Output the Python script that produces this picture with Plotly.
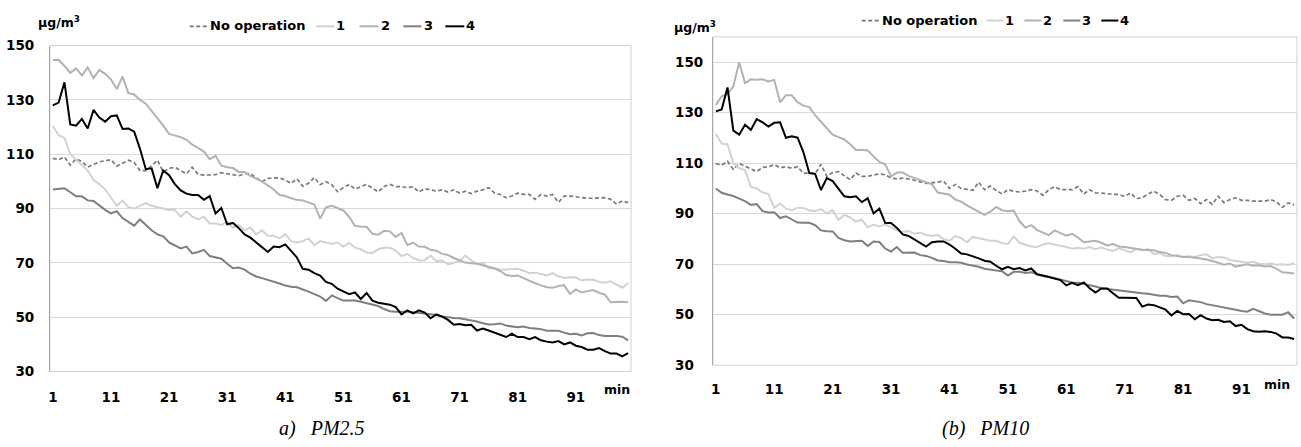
import plotly.graph_objects as go

W, H = 1301, 447

minutes = list(range(1, 101))
tick_minutes = [1, 11, 21, 31, 41, 51, 61, 71, 81, 91]
series_names = ["No operation", "1", "2", "3", "4"]
y_ticks = [30, 50, 70, 90, 110, 130, 150]

# ---------------- PM2.5 ----------------
pm25_no_op = [108.5, 108, 109, 106, 108.3, 107.3, 105.3, 106.4, 107.2, 107.6,
              108, 105.6, 106.6, 107.8, 107, 104, 104, 105.7, 107.8, 103.5,
              104.8, 105.2, 104, 102.8, 105.2, 102.6, 102.3, 102.4, 102.5, 103.2,
              102.8, 102.3, 102.1, 102.8, 102.9, 101.3, 99.9, 101.1, 101.3, 101.3,
              100.5, 99.3, 101, 98.2, 99.3, 101.4, 98.8, 99.9, 98.8, 96.2,
              97.7, 98.9, 97.2, 98.1, 98.9, 97.5, 96.1, 98.1, 98.9, 98.1,
              98.1, 97.7, 98, 96.1, 97.3, 96.9, 96.4, 96.9, 96.1, 96.9,
              95.7, 96.4, 95.5, 96.4, 96.9, 97.7, 95.7, 95.2, 94, 94.6,
              95.7, 95.2, 95.2, 93.4, 95.2, 94.6, 95.2, 92.3, 94.6, 94.6,
              94.3, 94, 93.8, 93.8, 94, 94, 93.4, 91.6, 92.8, 92.2]
pm25_s1 = [120.5, 117, 116, 110, 108, 106, 104, 100.5, 99, 97,
           94, 91, 93, 90.5, 90, 91, 92, 91, 90.5, 90,
           89.5, 89.5, 87, 89, 87, 86, 87, 84.5, 84.5, 84,
           85, 83, 84, 82, 83, 80.5, 82, 80, 80, 79,
           80.5, 78, 77.5, 78, 79, 76.5, 78, 77.5, 77, 77.5,
           76, 77.4, 75.6, 75, 73.8, 73.6, 75, 75.6, 75.6, 74.5,
           72.5, 73.3, 71.8, 70.9, 71, 72.7, 70.6, 70.9, 69.4, 70,
           70.9, 72.7, 70.9, 69.7, 70, 68, 67.9, 67.5, 67.6, 67.9,
           67.8, 67.1, 66.2, 66.4, 66, 65.4, 66.2, 65, 64.4, 64.7,
           64.6, 63.5, 63.9, 63.8, 63, 62.7, 63.2, 62, 60.8, 62.6]
pm25_s2 = [144.7, 144.7, 142.5, 140, 141.6, 139, 142, 138, 141, 139.6,
           137.6, 134, 138.6, 132.5, 132, 130, 128.6, 126, 123, 120.5,
           117.5, 117, 116.3, 115.3, 113.5, 112.3, 111, 108.2, 109.4, 105.8,
           105.2, 104.9, 103.5, 103.5, 102, 101, 100, 98.5, 97, 95,
           94.6, 93.8, 93.2, 93, 92.2, 91.5, 86.3, 90.4, 91, 90,
           89.3, 86.9, 83.6, 83.3, 83.3, 80.7, 80.4, 81.8, 81.6, 79.5,
           81, 76.6, 77.4, 76, 75.9, 74.8, 74.5, 73.3, 72.9, 71.8,
           70.8, 70.1, 69.9, 69.7, 69.1, 68.6, 68, 67, 65.5, 65.2,
           65.3, 64.4, 63.3, 62.5, 61.7, 61, 60.8, 61.5, 61.8, 58.5,
           60.2, 59.1, 59.6, 60, 59, 58.3, 55.5, 55.7, 55.7, 55.5]
pm25_s3 = [97, 97.2, 97.5, 96, 94.5, 94.5, 93, 92.8, 91, 89.5,
           88.2, 89, 86.5, 85, 83.7, 86, 84, 82, 80.5, 79.8,
           77.5, 76.5, 75.3, 76, 73.5, 74, 74.8, 72.5, 72, 71.5,
           69.7, 68, 68.3, 67.5, 66, 65, 64.4, 63.8, 63.2, 62.4,
           61.7, 61.2, 61, 60.3, 59.4, 58.5, 57.6, 56, 58, 57,
           56.1, 56.1, 56.1, 55.7, 55.2, 54.6, 54.1, 53, 52.2, 52,
           52.1, 52, 51.8, 51.6, 51.2, 51, 50.8, 50.3, 49.9, 49.7,
           49.6, 49.2, 48.9, 48.4, 47.8, 47.3, 47.4, 47.7, 46.9, 46.5,
           46.3, 46.6, 46, 45.8, 45.6, 45, 45.1, 45, 44.3, 43.7,
           43.9, 43.3, 44.1, 44.2, 43.4, 43.1, 43.1, 43.1, 42.8, 41.5]
pm25_s4 = [128, 129, 136.5, 121, 120.5, 123, 119.5, 126.3, 123.5, 122,
           124, 124.3, 119.3, 119.5, 118.3, 112, 104.5, 104.8, 97.5, 104,
           102.3, 99, 96.7, 95.5, 95, 95, 93.2, 94.6, 88.2, 90.2,
           84.2, 84.7, 82.8, 80.5, 79.3, 77.5, 75.7, 74, 76, 75.8,
           76.8, 74.5, 72, 67.8, 67.5, 66.2, 65.3, 63, 62.3, 60.5,
           59.6, 58.5, 59.1, 56.7, 58.9, 56.1, 55.3, 55, 54.6, 53.7,
           51, 52.5, 51.4, 52.5, 51.7, 49.6, 51, 50.2, 49, 47.2,
           47.5, 47, 47.2, 45.1, 45.8, 45.1, 44.3, 43.4, 42.7, 43.9,
           42.7, 42.7, 41.9, 42.7, 41.5, 41, 40.7, 41.2, 40, 40.7,
           39.5, 39, 38, 38, 38.6, 37.5, 36.6, 36.6, 35.6, 36.8]

# ---------------- PM10 ----------------
pm10_no_op = [109.9, 109.2, 110.8, 107.5, 109.9, 108.9, 107.6, 106.7, 108.3, 108.6,
              109.4, 108.2, 108.6, 108, 108.6, 106, 106.1, 105.8, 109.5, 104.8,
              106.3, 106.7, 105, 103.5, 106.1, 104.8, 104.8, 105.4, 105.8, 105.4,
              104.1, 103.8, 104.1, 103.8, 103.2, 102.5, 102, 102.2, 102.5, 102.9,
              100, 101.6, 100, 99.5, 99.3, 102.5, 99.5, 101, 99.2, 97.8,
              99.5, 98.9, 98.6, 99, 99.5, 99, 97.3, 99.5, 100.7, 99.5,
              99.5, 99.5, 100.7, 97.8, 99.5, 98.2, 98.2, 97.8, 97.8, 97.5,
              96.9, 98.2, 96, 96.3, 97.8, 98.9, 97.6, 95.6, 95.3, 96.9,
              97.3, 95.3, 96, 94, 95.6, 93.7, 96.9, 94.4, 95.6, 96.3,
              95.3, 95.3, 95, 95, 95, 95.6, 94.6, 92.5, 94.3, 93.5]
pm10_s1 = [121.6, 117.8, 117.5, 110, 108, 107.3, 100.7, 100, 98.4, 97.8,
           92.3, 94, 92, 91.4, 92.4, 92.3, 91.4, 91, 91.8, 90.1,
           91.4, 87.6, 89.5, 88.5, 86.9, 87.6, 84.6, 85.7, 85, 85.7,
           84.6, 83.4, 82.9, 83.1, 82.1, 82.5, 81.6, 81.2, 81.6, 79.9,
           79.3, 81.2, 80.3, 78.7, 80.8, 80.3, 79.9, 79.3, 79.3, 78.3,
           78, 81, 78.5, 77.8, 77, 76.8, 77.8, 78.3, 77.8, 77.4,
           76.8, 76.1, 76.5, 76.1, 76.8, 75.9, 76.6, 75.8, 75.3, 76.3,
           75.7, 74.8, 76.1, 75.5, 76, 74, 74.5, 73.3, 73.2, 73.6,
           72.9, 73.2, 72.9, 73.6, 73.9, 72.3, 72.9, 72.7, 71.7, 71.4,
           71.1, 70.6, 71, 70.2, 70, 70.3, 69.8, 70, 69.7, 70.4]
pm10_s2 = [133, 136.5, 137.3, 140.4, 150, 141.7, 143.2, 143, 143.2, 142.4,
           143, 134.1, 136.9, 136.9, 134.1, 132.8, 132.2, 129, 126.4, 123.9,
           121.3, 120.3, 119.4, 117.5, 115.2, 115.2, 115, 112.7, 110.5, 109.6,
           104.8, 106.3, 106.3, 105, 104.1, 103.2, 102.2, 101.6, 98.4, 97.8,
           97.5, 95.6, 94.8, 93.3, 92, 90.8, 89.5, 90.8, 92.7, 91.4,
           91, 91.2, 87, 84.5, 85.5, 83.5, 82.6, 81.5, 83.4, 82.5,
           81.3, 82, 80.6, 78.7, 79, 79.3, 78.5, 77.4, 78, 77,
           76.8, 76.4, 76.1, 75.7, 75.6, 75.5, 74.8, 74.5, 73.6, 73.2,
           72.9, 72.9, 72.7, 72.3, 71.9, 71.4, 70.6, 69.8, 70.3, 69,
           69.5, 70, 69.4, 69.6, 69.1, 69.3, 68.2, 66.8, 66.6, 66.3]
pm10_s3 = [100, 98.3, 97.6, 97, 96, 95, 93.5, 93.8, 91, 90.5,
           90.6, 88.3, 89, 87.6, 86.5, 86.4, 86.4, 85.5, 83.4, 83.1,
           83, 80.4, 79.5, 79, 79, 79.3, 77.2, 79, 78.8, 76.2,
           75, 76.8, 74.5, 74.5, 74.6, 73.6, 73.3, 72.5, 71.5, 71.3,
           70.8, 70.8, 70.6, 69.9, 69.5, 69, 68.2, 67.7, 67.5, 67.2,
           65.5, 67, 67, 66.5, 66.8, 66, 65.3, 65, 64.5, 64,
           63.4, 62.8, 62.7, 62.3, 61.6, 61.2, 60.5, 60.2, 59.7, 59.5,
           59.3, 59, 58.8, 58.5, 58.3, 58, 57.5, 57.5, 57, 57.2,
           54.5, 55.7, 55.4, 55, 54.2, 53.8, 53.5, 53, 52.5, 52,
           51.5, 51.2, 52.3, 51.3, 50.5, 50, 50, 50, 51, 48.5]
pm10_s4 = [130.5, 131.3, 140, 122.9, 121.3, 125.2, 123.2, 127.5, 126.2, 124.5,
           126, 126.2, 120.1, 120.7, 120.1, 114.3, 106.1, 105.8, 99.4, 104.1,
           102.9, 99.9, 96.9, 96.5, 96.9, 94.6, 96.1, 90.1, 92, 86.3,
           86.3, 84.4, 81.8, 81.2, 79.9, 78.3, 77, 78.7, 79, 79,
           77.8, 76.1, 74.2, 73.9, 73.2, 72.3, 71.4, 71, 69.4, 68,
           69, 68, 68.5, 67.5, 68.3, 66, 65.5, 65, 64.5, 63.7,
           61.6, 62.6, 61.7, 62.8, 60.5, 58.8, 60.4, 60.4, 58.5, 56.7,
           56.7, 56.7, 56.6, 53.2, 54, 53.8, 53, 52, 49.7, 51.5,
           50.2, 50.3, 48.2, 49.8, 48.5, 47.8, 48, 47.1, 47.4, 45.5,
           46, 44.3, 43.5, 43.3, 43.5, 43.2, 42.5, 41, 41, 40.4]

pm25_series = [pm25_no_op, pm25_s1, pm25_s2, pm25_s3, pm25_s4]
pm10_series = [pm10_no_op, pm10_s1, pm10_s2, pm10_s3, pm10_s4]

styles = {
    "No operation": dict(color="#7a7a7a", width=1.7, dash="4px,2.5px"),
    "1": dict(color="#d2d2d2", width=2),
    "2": dict(color="#b2b2b2", width=2),
    "3": dict(color="#7f7f7f", width=2),
    "4": dict(color="#000000", width=2),
}

FONT = "DejaVu Sans"
TICKFONT = dict(family=FONT, size=13.5, color="#000000", weight="bold")
LEGFONT = dict(family=FONT, size=13, color="#000000", weight="bold")
UNITFONT = dict(family=FONT, size=12.5, color="#000000", weight="bold")


def fx(x):
    return x / W


def fy(y):
    return 1 - y / H


fig = go.Figure()
for name, ys in zip(series_names, pm25_series):
    fig.add_trace(go.Scatter(x=minutes, y=ys, mode="lines", name=name,
                             line=styles[name], showlegend=False,
                             xaxis="x", yaxis="y"))
for name, ys in zip(series_names, pm10_series):
    fig.add_trace(go.Scatter(x=minutes, y=ys, mode="lines", name=name,
                             line=styles[name], showlegend=False,
                             xaxis="x2", yaxis="y2"))

xcommon = dict(range=[0.5, 100.5], tickmode="array", tickvals=tick_minutes,
               ticktext=[str(t) for t in tick_minutes], showgrid=False,
               zeroline=False, showline=False, ticks="outside",
               tickcolor="rgba(0,0,0,0)", tickfont=TICKFONT, fixedrange=True)
ycommon = dict(tickmode="array", tickvals=y_ticks, showgrid=True,
               gridcolor="#d9d9d9", gridwidth=1, zeroline=False,
               showline=True, linecolor="#a6a6a6", linewidth=1,
               ticks="outside", tickcolor="rgba(0,0,0,0)", tickfont=TICKFONT,
               fixedrange=True)

fig.update_layout(
    width=W, height=H, autosize=False,
    margin=dict(l=0, r=0, t=0, b=0),
    paper_bgcolor="white", plot_bgcolor="white",
    showlegend=False,
    xaxis=dict(xcommon, domain=[fx(48), fx(630)], anchor="y", ticklen=13),
    yaxis=dict(ycommon, domain=[fy(377), fy(39)], range=[30, 150], anchor="x",
               ticktext=[str(v) for v in y_ticks], ticklen=12),
    xaxis2=dict(xcommon, domain=[fx(712), fx(1297)], anchor="y2", ticklen=12),
    yaxis2=dict(ycommon, domain=[fy(370.5), fy(30)], range=[30, 160], anchor="x2",
                ticktext=[(str(v) if v >= 100 else str(v) + "\u00a0\u00a0") for v in y_ticks],
                ticklen=6),
)

shapes = []
# plot-area borders
for xr, yr in (("x domain", "y domain"), ("x2 domain", "y2 domain")):
    shapes.append(dict(type="rect", xref=xr, yref=yr, x0=0, x1=1, y0=0, y1=1,
                       line=dict(color="#d0d0d0", width=1), layer="below"))

annotations = []

# custom legends (sample line + label) for each panel
legend_a = [(188, 207, 207), (315, 333, 334), (358, 377, 379), (402, 420, 422), (444, 463, 464)]
legend_b = [(861, 880, 880), (986, 1003, 1004), (1024, 1041, 1042), (1063, 1080, 1081), (1101, 1118, 1119)]
for items, ycen in ((legend_a, 19), (legend_b, 13)):
    for name, (x0, x1, xt) in zip(series_names, items):
        st = styles[name]
        shapes.append(dict(type="line", xref="paper", yref="paper",
                           x0=fx(x0), x1=fx(x1), y0=fy(ycen), y1=fy(ycen),
                           line=dict(color=st["color"], width=st["width"],
                                     dash=st.get("dash", "solid"))))
        annotations.append(dict(text=name, xref="paper", yref="paper",
                                x=fx(xt), y=fy(ycen - 0.5), xanchor="left",
                                yanchor="middle", showarrow=False, font=LEGFONT,
                                borderpad=0))

# unit labels
for x0, yc in ((35, 15), (672, 20)):
    annotations.append(dict(text="\u03bcg/m<sup>3</sup>", xref="paper", yref="paper",
                            x=fx(x0), y=fy(yc), xanchor="left", yanchor="middle",
                            showarrow=False, font=UNITFONT, borderpad=0))
# "min" labels
for xc, yc in ((616, 396), (1277, 390)):
    annotations.append(dict(text="min", xref="paper", yref="paper",
                            x=fx(xc), y=fy(yc), xanchor="center", yanchor="middle",
                            showarrow=False, font=UNITFONT, borderpad=0))
# captions
CAP = dict(family="Liberation Serif", size=20, color="#000000", style="italic")
for txt, x0 in (("a)\u00a0\u00a0\u00a0PM2.5", 276), ("(b)\u00a0\u00a0\u00a0PM10", 940)):
    annotations.append(dict(text=txt, xref="paper", yref="paper",
                            x=fx(x0), y=fy(436), xanchor="left", yanchor="middle",
                            showarrow=False, font=CAP, borderpad=0))

fig.update_layout(shapes=shapes, annotations=annotations)

fig.write_html("out.html", config={"displayModeBar": False, "staticPlot": True},
               post_script="document.body.style.margin='0';document.body.style.overflow='hidden';")
